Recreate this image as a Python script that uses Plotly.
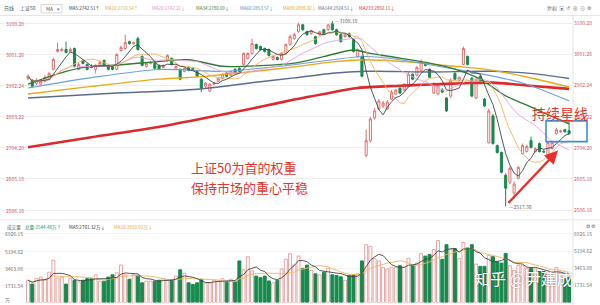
import pandas as pd
import plotly.graph_objects as go

# ---------------- data ----------------
open_p = [2925.9, 2919.6, 2910.2, 2907.0, 2916.5, 2922.8, 2954.3, 3011.0, 3014.2, 3017.4,
          3011.0, 3020.5, 2954.3, 2982.7, 2970.1, 2963.8, 2954.3, 2966.9, 2982.7, 2966.9,
          2963.8, 2954.3, 3014.2, 3020.5, 3042.6, 3036.3, 3052.0, 2995.3, 2963.8, 2973.2,
          2973.2, 2966.9, 2960.6, 2982.7, 2989.0, 2954.3, 2954.3, 2948.0, 2960.6, 2957.4,
          2948.0, 2922.8, 2900.7, 2885.0, 2907.0, 2916.5, 2925.9, 2941.7, 2935.4, 2954.3,
          2957.4, 2970.1, 2989.0, 3004.7, 3033.1, 3026.8, 3020.5, 3017.4, 2985.8, 2992.1,
          2985.8, 3004.7, 3033.1, 3052.0, 3074.1, 3096.2, 3074.1, 3067.8, 3058.3, 3064.7,
          3080.4, 3080.4, 3099.3, 3080.4, 3064.7, 3058.3, 3067.8, 3048.9, 2995.3, 2995.3,
          2680.0, 2727.3, 2799.8, 2828.2, 2837.6, 2828.2, 2859.7, 2875.5, 2894.4, 2888.1,
          2900.7, 2938.6, 2935.4, 2951.1, 2970.1, 2954.3, 2878.6, 2875.5, 2888.1, 2862.9,
          2869.2, 2941.7, 2919.6, 2970.1, 2995.3, 2925.9, 2862.9, 2932.2, 2859.7, 2721.0,
          2806.1, 2711.5, 2689.4, 2616.9, 2594.9, 2560.2, 2607.5, 2686.3, 2692.6, 2727.3,
          2692.6, 2717.8, 2692.6, 2670.5, 2702.1, 2749.4, 2755.7, 2762.0, 2758.8]
close_p = [2932.2, 2900.7, 2919.6, 2916.5, 2929.1, 2941.7, 2985.8, 3017.4, 3017.4, 3007.9,
           3017.4, 2963.8, 2970.1, 2973.2, 2954.3, 2960.6, 2966.9, 2976.4, 2966.9, 2954.3,
           2954.3, 3001.6, 3023.6, 3039.4, 3036.3, 3039.4, 3017.4, 2966.9, 2973.2, 2976.4,
           2957.4, 2954.3, 2966.9, 2998.4, 2970.1, 2963.8, 2922.8, 2957.4, 2951.1, 2954.3,
           2932.2, 2894.4, 2910.2, 2907.0, 2910.2, 2925.9, 2938.6, 2932.2, 2948.0, 2941.7,
           2948.0, 3004.7, 3004.7, 3036.3, 3020.5, 3017.4, 3011.0, 2998.4, 2995.3, 2985.8,
           3004.7, 3033.1, 3058.3, 3064.7, 3096.2, 3080.4, 3064.7, 3077.3, 3036.3, 3074.1,
           3067.8, 3096.2, 3080.4, 3064.7, 3042.6, 3064.7, 3058.3, 3011.0, 3017.4, 2932.2,
           2727.3, 2796.7, 2821.9, 2853.4, 2847.1, 2850.3, 2881.8, 2888.1, 2878.6, 2907.0,
           2938.6, 2922.8, 2960.6, 2979.5, 2966.9, 2929.1, 2907.0, 2903.8, 2881.8, 2821.9,
           2919.6, 2922.8, 2929.1, 3020.5, 2970.1, 2869.2, 2922.8, 2910.2, 2837.6, 2821.9,
           2717.8, 2689.4, 2626.4, 2575.9, 2639.0, 2588.6, 2642.2, 2711.5, 2708.4, 2705.2,
           2702.1, 2692.6, 2691.0, 2721.0, 2721.0, 2762.0, 2757.3, 2755.7, 2749.4]
high_p = [2938.6, 2922.8, 2925.9, 2922.8, 2935.4, 2944.8, 2992.1, 3039.4, 3023.6, 3042.6,
          3023.6, 3023.6, 2976.4, 2985.8, 2973.2, 2970.1, 2970.1, 2982.7, 2985.8, 2970.1,
          2966.9, 3004.7, 3029.9, 3064.7, 3045.7, 3042.6, 3058.3, 2998.4, 2976.4, 2979.5,
          2976.4, 2970.1, 2970.1, 3001.6, 2992.1, 2966.9, 2957.4, 2960.6, 2963.8, 2960.6,
          2951.1, 2925.9, 2913.3, 2910.2, 2913.3, 2929.1, 2941.7, 2944.8, 2951.1, 2957.4,
          2960.6, 3007.9, 3007.9, 3052.0, 3036.3, 3029.9, 3023.6, 3020.5, 2998.4, 2995.3,
          3007.9, 3036.3, 3064.7, 3071.0, 3102.5, 3099.3, 3077.3, 3080.4, 3061.5, 3077.3,
          3083.6, 3099.3, 3108.18, 3083.6, 3067.8, 3067.8, 3071.0, 3052.0, 3020.5, 2998.4,
          2762.0, 2803.0, 2831.3, 2859.7, 2853.4, 2856.6, 2888.1, 2891.2, 2897.5, 2910.2,
          2944.8, 2941.7, 2963.8, 2985.8, 2976.4, 2957.4, 2913.3, 2910.2, 2894.4, 2866.0,
          2925.9, 2944.8, 2932.2, 3026.8, 2998.4, 2929.1, 2925.9, 2935.4, 2862.9, 2828.2,
          2812.4, 2714.7, 2692.6, 2623.2, 2645.3, 2598.0, 2645.3, 2717.8, 2714.7, 2739.9,
          2705.2, 2721.0, 2698.9, 2724.1, 2724.1, 2768.3, 2762.0, 2765.1, 2793.5]
low_p = [2919.6, 2897.5, 2903.8, 2903.8, 2913.3, 2919.6, 2951.1, 3007.9, 3011.0, 3004.7,
         3007.9, 2960.6, 2951.1, 2970.1, 2951.1, 2957.4, 2941.7, 2963.8, 2963.8, 2951.1,
         2951.1, 2951.1, 3011.0, 3017.4, 3033.1, 3033.1, 3014.2, 2963.8, 2960.6, 2970.1,
         2954.3, 2951.1, 2957.4, 2979.5, 2966.9, 2951.1, 2919.6, 2944.8, 2948.0, 2951.1,
         2929.1, 2881.8, 2894.4, 2881.8, 2903.8, 2913.3, 2922.8, 2929.1, 2932.2, 2938.6,
         2944.8, 2966.9, 2985.8, 3001.6, 3017.4, 3014.2, 3007.9, 2995.3, 2982.7, 2982.7,
         2982.7, 3001.6, 3029.9, 3048.9, 3071.0, 3077.3, 3061.5, 3064.7, 3033.1, 3061.5,
         3064.7, 3077.3, 3077.3, 3061.5, 3039.4, 3055.2, 3055.2, 3007.9, 2992.1, 2929.1,
         2673.7, 2721.0, 2793.5, 2825.0, 2831.3, 2825.0, 2856.6, 2872.3, 2875.5, 2885.0,
         2897.5, 2919.6, 2932.2, 2948.0, 2963.8, 2925.9, 2875.5, 2872.3, 2878.6, 2818.7,
         2862.9, 2919.6, 2916.5, 2966.9, 2966.9, 2866.0, 2859.7, 2907.0, 2834.5, 2717.8,
         2714.7, 2686.3, 2623.2, 2517.30, 2588.6, 2541.3, 2604.3, 2683.1, 2689.4, 2702.1,
         2689.4, 2689.4, 2689.4, 2667.4, 2698.9, 2746.2, 2752.5, 2752.5, 2746.2]
volume = [2250, 1860, 2445, 2570, 2350, 3060, 4270, 2470, 2570, 1860,
          2410, 2250, 2080, 2250, 2410, 2410, 2800, 2150, 2150, 2570,
          2800, 3000, 3780, 2800, 2350, 2800, 2740, 1990, 2150, 2150,
          2150, 2250, 2410, 2250, 2250, 2670, 3300, 2960, 1990, 1830,
          1990, 2350, 1960, 1960, 2250, 2150, 2410, 2150, 2350, 2080,
          4200, 3300, 4630, 3200, 2670, 2510, 2670, 2180, 1990, 2250,
          3390, 4370, 4920, 3780, 4690, 3450, 3780, 3230, 2900, 2800,
          3060, 3450, 2800, 2740, 2600, 2250, 2740, 2800, 2900, 4200,
          5840, 5670, 4430, 4200, 3550, 3390, 3550, 3550, 3720, 3550,
          4470, 3720, 3980, 4960, 4690, 4860, 5350, 6260, 4370, 5840,
          5350, 5450, 4430, 6060, 5510, 5840, 3880, 3650, 3650, 4760,
          4630, 4110, 3980, 4960, 3720, 3230, 3780, 3720, 3450, 3450,
          3390, 3130, 3130, 2900, 2800, 3550, 3000, 2410, 2544.48]

# long moving averages (history lies before the window): read at sample candles
ma34_idx = [0, 7, 14, 22, 30, 38, 46, 55, 63, 70, 77, 81, 88, 95, 101, 107, 113, 118, 123, 128]
ma34_val = [2907, 2940, 2962, 2969, 2978, 2985, 2964, 2966, 2974, 2995, 3016, 3005, 2990, 2974,
            2955, 2923, 2870, 2840, 2810, 2781]
ma60_idx = [0, 15, 31, 46, 55, 63, 72, 80, 88, 95, 106, 117, 128]
ma60_val = [2895, 2928, 2954, 2948, 2958, 2969, 2985, 2995, 2985, 2969, 2943, 2911, 2854]
ma89_idx = [0, 15, 31, 42, 55, 63, 72, 80, 90, 100, 108, 118, 128]
ma89_val = [2876, 2900, 2923, 2932, 2950, 2962, 2978, 2985, 2978, 2965, 2955, 2930, 2898]
ma144_idx = [0, 20, 40, 55, 63, 72, 80, 95, 110, 120, 128]
ma144_val = [2863, 2878, 2891, 2915, 2927, 2942, 2948, 2946, 2948, 2940, 2925]
ma233_idx = [0, 15, 30, 41, 55, 63, 70, 78, 88, 95, 103, 110, 118, 128]
ma233_val = [2706, 2738, 2769, 2797, 2835, 2858, 2876, 2895, 2902, 2906, 2910, 2912, 2903, 2892]

price_ticks = [2506.16, 2605.18, 2704.20, 2803.22, 2902.24, 3001.26, 3100.28]
vol_ticks = [0, 1731.54, 3463.08, 5194.62, 6926.15]
vol_ticktext = ['万', '1731.54', '3463.08', '5194.62', '6926.15']

legend_items = [('MA5:2742.51↑', '#333333', 67), ('MA10:2710.54↑', '#f0a43a', 103),
                ('MA20:2742.22↓', '#e58ad6', 150), ('MA34:2780.69↓', '#2e7d32', 194),
                ('MA60:2853.57↓', '#4a8fd8', 238), ('MA89:2898.02↓', '#e8a512', 281),
                ('MA144:2924.51↓', '#58698f', 316), ('MA233:2892.11↓', '#d9252d', 357)]

# ---------------- figure ----------------
W, H = 600, 305
FONT = 'Noto Sans CJK SC, Noto Sans, sans-serif'
UP = '#e5706e'
DOWN = '#188a4e'


def pxx(x):
    return x / W


def pxy(y):
    return 1 - y / H


idx = list(range(len(close_p)))
cs = pd.Series(close_p)
ma5 = cs.rolling(5, min_periods=1).mean()
ma10 = cs.rolling(10, min_periods=1).mean()
ma20 = cs.rolling(20, min_periods=1).mean()
vs = pd.Series(volume)
vma5 = vs.rolling(5, min_periods=1).mean()
vma10 = vs.rolling(10, min_periods=1).mean()

fig = go.Figure()
fig.add_trace(go.Candlestick(
    x=idx, open=open_p, high=high_p, low=low_p, close=close_p,
    increasing=dict(line=dict(color=UP, width=1), fillcolor='white'),
    decreasing=dict(line=dict(color=DOWN, width=1), fillcolor=DOWN),
    whiskerwidth=0, showlegend=False, hoverinfo='skip', xaxis='x', yaxis='y'))

for xs, ys, col, w in [
        (ma233_idx, ma233_val, '#dc2a2f', 2.6),
        (ma144_idx, ma144_val, '#5b6c93', 1.4),
        (ma89_idx, ma89_val, '#e8aa1c', 1.4),
        (ma60_idx, ma60_val, '#6f9fdc', 1.1),
        (ma34_idx, ma34_val, '#2f7d34', 1.4)]:
    fig.add_trace(go.Scatter(x=xs, y=ys, mode='lines', line=dict(color=col, width=w, shape='spline', smoothing=0.8),
                             showlegend=False, hoverinfo='skip', xaxis='x', yaxis='y'))
for ys, col in [(ma20, '#eaa0dc'), (ma10, '#f3b45c'), (ma5, '#444444')]:
    fig.add_trace(go.Scatter(x=idx, y=ys, mode='lines', line=dict(color=col, width=0.9),
                             showlegend=False, hoverinfo='skip', xaxis='x', yaxis='y'))

up = [c >= o for o, c in zip(open_p, close_p)]
fig.add_trace(go.Bar(
    x=idx, y=volume, width=0.7,
    marker=dict(color=['white' if u else DOWN for u in up],
                line=dict(color=['#eba3a3' if u else DOWN for u in up], width=1)),
    showlegend=False, hoverinfo='skip', xaxis='x2', yaxis='y2'))
fig.add_trace(go.Scatter(x=idx, y=vma10, mode='lines', line=dict(color='#f3b45c', width=0.9),
                         showlegend=False, hoverinfo='skip', xaxis='x2', yaxis='y2'))
fig.add_trace(go.Scatter(x=idx, y=vma5, mode='lines', line=dict(color='#444444', width=0.9),
                         showlegend=False, hoverinfo='skip', xaxis='x2', yaxis='y2'))

XR = [-6.624, 128.93]
XD = [0, 573 / W]
ann = []


def text(x, y, s, size=5, color='#555', xanchor='left', yref='paper', xref='paper', **kw):
    ann.append(dict(x=x, y=y, xref=xref, yref=yref, text=s, showarrow=False, xanchor=xanchor,
                    yanchor='middle', font=dict(size=size, color=color, family=FONT), **kw))


# left-side axis labels
for v in price_ticks:
    text(pxx(4), v, f'{v:.2f}', size=5, color='#d9534f', yref='y')
for v, t in zip(vol_ticks, vol_ticktext):
    text(pxx(3), v if v > 0 else 220, t, size=5, color='#777', yref='y2')

# toolbar
text(pxx(2), pxy(5.5), '日线', size=5, color='#555')
text(pxx(18), pxy(5.5), '上证50', size=5, color='#555')
text(pxx(44), pxy(5.5), 'MA', size=5, color='#555')
text(pxx(55), pxy(5.5), '▾', size=5, color='#777')
for s, c, x in legend_items:
    text(pxx(x), pxy(5.5), s, size=4.5, color=c)
text(pxx(545), pxy(5.5), '复权  ▣  ↺  ⊕  ⊖  ⚙', size=5, color='#666')

# volume header
text(pxx(5), pxy(227), '成交量', size=4.6, color='#666')
text(pxx(23), pxy(227), '总量:2544.48万↑', size=4.6, color='#25936a')
text(pxx(67), pxy(227), 'MA5:2701.32万↓', size=4.6, color='#333')
text(pxx(112), pxy(227), 'MA10:2810.92万↓', size=4.6, color='#f0a43a')
text(pxx(584), pxy(225.5), '⚙ ⚙', size=4.5, color='#666')

# extremes
text(72, 3108.18, '—3108.18', size=5, color='#666', xref='x', yref='y', xshift=1, yshift=1)
text(113, 2517.30, '—2517.30', size=5, color='#666', xref='x', yref='y', xshift=1)

# commentary
text(pxx(189), pxy(166), '上证50为首的权重', size=13, color='#e4352c')
text(pxx(189), pxy(186), '保持市场的重心平稳', size=13, color='#e4352c')
text(pxx(560), pxy(111.5), '持续星线', size=14, color='#e4352c', xanchor='center')
ann.append(dict(x=pxx(558), y=pxy(149), xref='paper', yref='paper', ax=-51, ay=54,
                showarrow=True, arrowhead=2, arrowsize=1.1, arrowwidth=2.4, arrowcolor='#e8302a', text=''))
ann.append(dict(x=pxx(472), y=pxy(278), xref='paper', yref='paper', text='知乎 @尹建成', showarrow=False,
                xanchor='left', yanchor='middle',
                font=dict(size=16, color='white', family=FONT, shadow='0px 0px 2px rgba(0,0,0,0.45)')))

shapes = [
    dict(type='line', xref='paper', yref='paper', x0=0, x1=1, y0=pxy(12.5), y1=pxy(12.5),
         line=dict(color='#e3e3e3', width=1)),
    dict(type='line', xref='paper', yref='paper', x0=pxx(573), x1=pxx(573), y0=pxy(12.5), y1=0,
         line=dict(color='#e3e3e3', width=1)),
    dict(type='line', xref='paper', yref='paper', x0=0, x1=1, y0=pxy(219), y1=pxy(219),
         line=dict(color='#e8e8e8', width=1)),
    dict(type='rect', xref='paper', yref='paper', x0=pxx(41), x1=pxx(62), y0=pxy(10), y1=pxy(1.5),
         line=dict(color='#cccccc', width=0.8)),
    dict(type='rect', xref='paper', yref='paper', x0=pxx(546), x1=pxx(587), y0=pxy(140), y1=pxy(119),
         line=dict(color='#3b8fd9', width=1.6)),
]

fig.update_layout(
    width=W, height=H, margin=dict(l=0, r=0, t=0, b=0),
    paper_bgcolor='white', plot_bgcolor='white', showlegend=False,
    xaxis=dict(domain=XD, range=XR, visible=False, rangeslider=dict(visible=False), anchor='y'),
    xaxis2=dict(domain=XD, range=XR, visible=False, anchor='y2'),
    yaxis=dict(domain=[pxy(215), pxy(14)], range=[2487.65, 3121.41], side='right', anchor='x',
               tickvals=price_ticks, ticktext=[f'{v:.2f}' for v in price_ticks],
               tickfont=dict(size=5, color='#d9534f', family=FONT), ticks='',
               showgrid=True, gridcolor='#efefef', gridwidth=1, zeroline=False, showline=False),
    yaxis2=dict(domain=[pxy(302.5), pxy(232)], range=[0, 7050], side='right', anchor='x2',
                tickvals=vol_ticks, ticktext=vol_ticktext,
                tickfont=dict(size=5, color='#777', family=FONT), ticks='',
                showgrid=True, gridcolor='#f3f3f3', zeroline=False, showline=False),
    annotations=ann, shapes=shapes,
    bargap=0.3,
)

fig.write_html('out.html')
